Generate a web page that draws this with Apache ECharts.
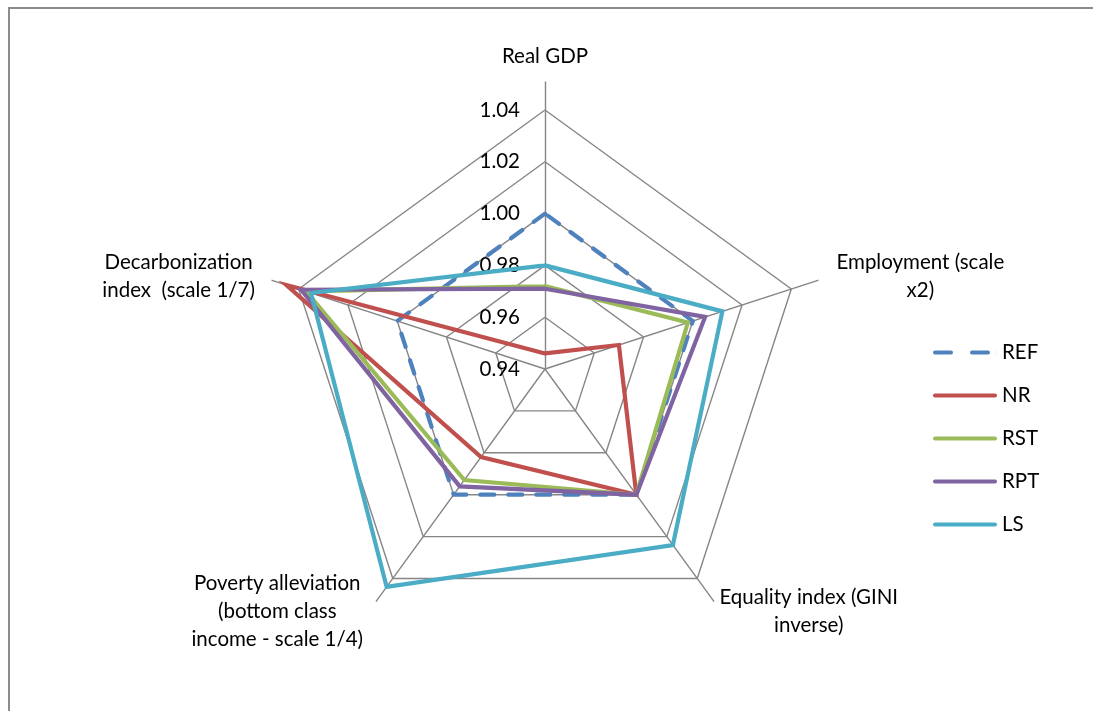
<!DOCTYPE html>
<html>
<head>
<meta charset="utf-8">
<script src="https://cdn.jsdelivr.net/npm/echarts@6/dist/echarts.min.js"></script>
<style>
    html, body { margin: 0; padding: 0; overflow: hidden; width: 1093px; height: 711px; }
    /* outer chart frame: only its top and left edges fall inside the picture */
    body {
        background:
            linear-gradient(#8c8c8c, #8c8c8c) 8px 7px / 1085px 2px no-repeat,
            linear-gradient(#8c8c8c, #8c8c8c) 8px 7px / 2px 704px no-repeat,
            #fff;
    }
    #chart { position: absolute; left: 0; top: 0; width: 1093px; height: 711px; }
</style>
</head>
<body>
<div id="chart"></div>
<script>
    // axes, counter-clockwise from the top (echarts radar order)
    var indicators = ['Real GDP', 'Decarbonization index  (scale 1/7)', 'Poverty alleviation (bottom class income - scale 1/4)', 'Equality index (GINI inverse)', 'Employment (scale x2)']
    var tickValues = [0.94, 0.96, 0.98, 1.00, 1.02, 1.04]
    var scenarios = ['REF', 'NR', 'RST', 'RPT', 'LS']
    // values in indicator order: GDP, Decarb, Poverty, Equality, Employment
    var REF = [1.000, 1.000, 1.000, 1.000, 1.000]
    var NR  = [0.946, 1.045, 0.982, 1.000, 0.970]
    var RST = [0.972, 1.037, 0.993, 1.000, 0.998]
    var RPT = [0.971, 1.039, 0.996, 1.000, 1.005]
    var LS  = [0.980, 1.035, 1.044, 1.024, 1.012]
    var colors = ['#4F81BD', '#C0504D', '#9BBB59', '#8064A2', '#4BACC6']

    var font = 'Lato'
    var fs = 20.5
    var gray = '#868686'
    var cx = 545, cy = 369, R = 259

    var nameLines = {
        'Real GDP': '{t|Real GDP}',
        'Decarbonization index  (scale 1/7)': '{d|Decarbonization}\n{d|index  (scale 1/7)}',
        'Poverty alleviation (bottom class income - scale 1/4)': '{p|Poverty alleviation}\n{p|(bottom class}\n{p|income - scale 1/4)}',
        'Equality index (GINI inverse)': '{q|Equality index (GINI}\n{q|inverse)}',
        'Employment (scale x2)': '{e|Employment (scale}\n{e|x2)}'
    }
    function rs(w){ return { width: w, align: 'center', fontFamily: font, fontSize: fs, lineHeight: 28, color: '#000' } }

    // legend keys drawn as short strokes, the REF one dashed
    var solidKey = 'path://M2,0h60a2,2 0 0 1 0,4h-60a2,2 0 0 1 0,-4z'
    var dashKey = 'path://M2,0h16a2,2 0 0 1 0,4h-16a2,2 0 0 1 0,-4z M39,0h16a2,2 0 0 1 0,4h-16a2,2 0 0 1 0,-4z M63.9,0h0.1v4h-0.1z'

    var chart = echarts.init(document.getElementById('chart'))
    var series = scenarios.map(function(s, i){
        var vals = [REF, NR, RST, RPT, LS][i]
        return {
            type: 'radar',
            radarIndex: 0,
            name: s,
            symbol: 'none',
            z: 2 + i,
            lineStyle: { width: 4.2, color: colors[i], type: s === 'REF' ? [14, 14] : 'solid', cap: 'round', join: 'miter' },
            itemStyle: { color: colors[i] },
            data: [{ name: s, value: vals }]
        }
    })

    chart.setOption({
        animation: false,
        backgroundColor: 'transparent',
        textStyle: { fontFamily: font },
        legend: {
            orient: 'vertical',
            left: 928,
            top: 337,
            padding: 5,
            itemWidth: 64,
            itemHeight: 4,
            itemGap: 22,
            data: scenarios.map(function(s){ return { name: s, icon: s === 'REF' ? dashKey : solidKey } }),
            textStyle: { fontFamily: font, fontSize: fs, lineHeight: 20, color: '#000' }
        },
        grid: { left: cx, top: cy - R, width: 1, height: R },
        xAxis: { type: 'value', show: false },
        yAxis: {
            type: 'value', min: 0.94, max: 1.04, interval: 0.02,
            axisLine: { show: false }, axisTick: { show: false }, splitLine: { show: false },
            axisLabel: { margin: 25, fontFamily: font, fontSize: fs, color: '#000',
                formatter: function(v){ return tickValues.indexOf(+v.toFixed(2)) >= 0 ? v.toFixed(2) : '' } }
        },
        radar: [
            {
                center: [cx, cy],
                radius: R,
                startAngle: 90,
                shape: 'polygon',
                splitNumber: 5,
                indicator: indicators.map(function(n){ return { name: n, min: 0.94, max: 1.04 } }),
                axisName: {
                    formatter: function(n){ return nameLines[n] },
                    rich: { t: rs(92), d: rs(164), p: rs(184), q: rs(176), e: rs(182) }
                },
                nameGap: 40,
                axisLine: { show: false },
                splitLine: { lineStyle: { color: gray, width: 1.4 } },
                splitArea: { show: false }
            },
            {
                center: [cx, cy],
                radius: R + 28,
                startAngle: 90,
                shape: 'polygon',
                indicator: indicators.map(function(n){ return { name: n, min: 0, max: 1 } }),
                axisName: { show: false },
                axisLine: { lineStyle: { color: gray, width: 1.4 } },
                splitLine: { show: false },
                splitArea: { show: false }
            }
        ],
        series: series
    })
</script>
</body>
</html>
